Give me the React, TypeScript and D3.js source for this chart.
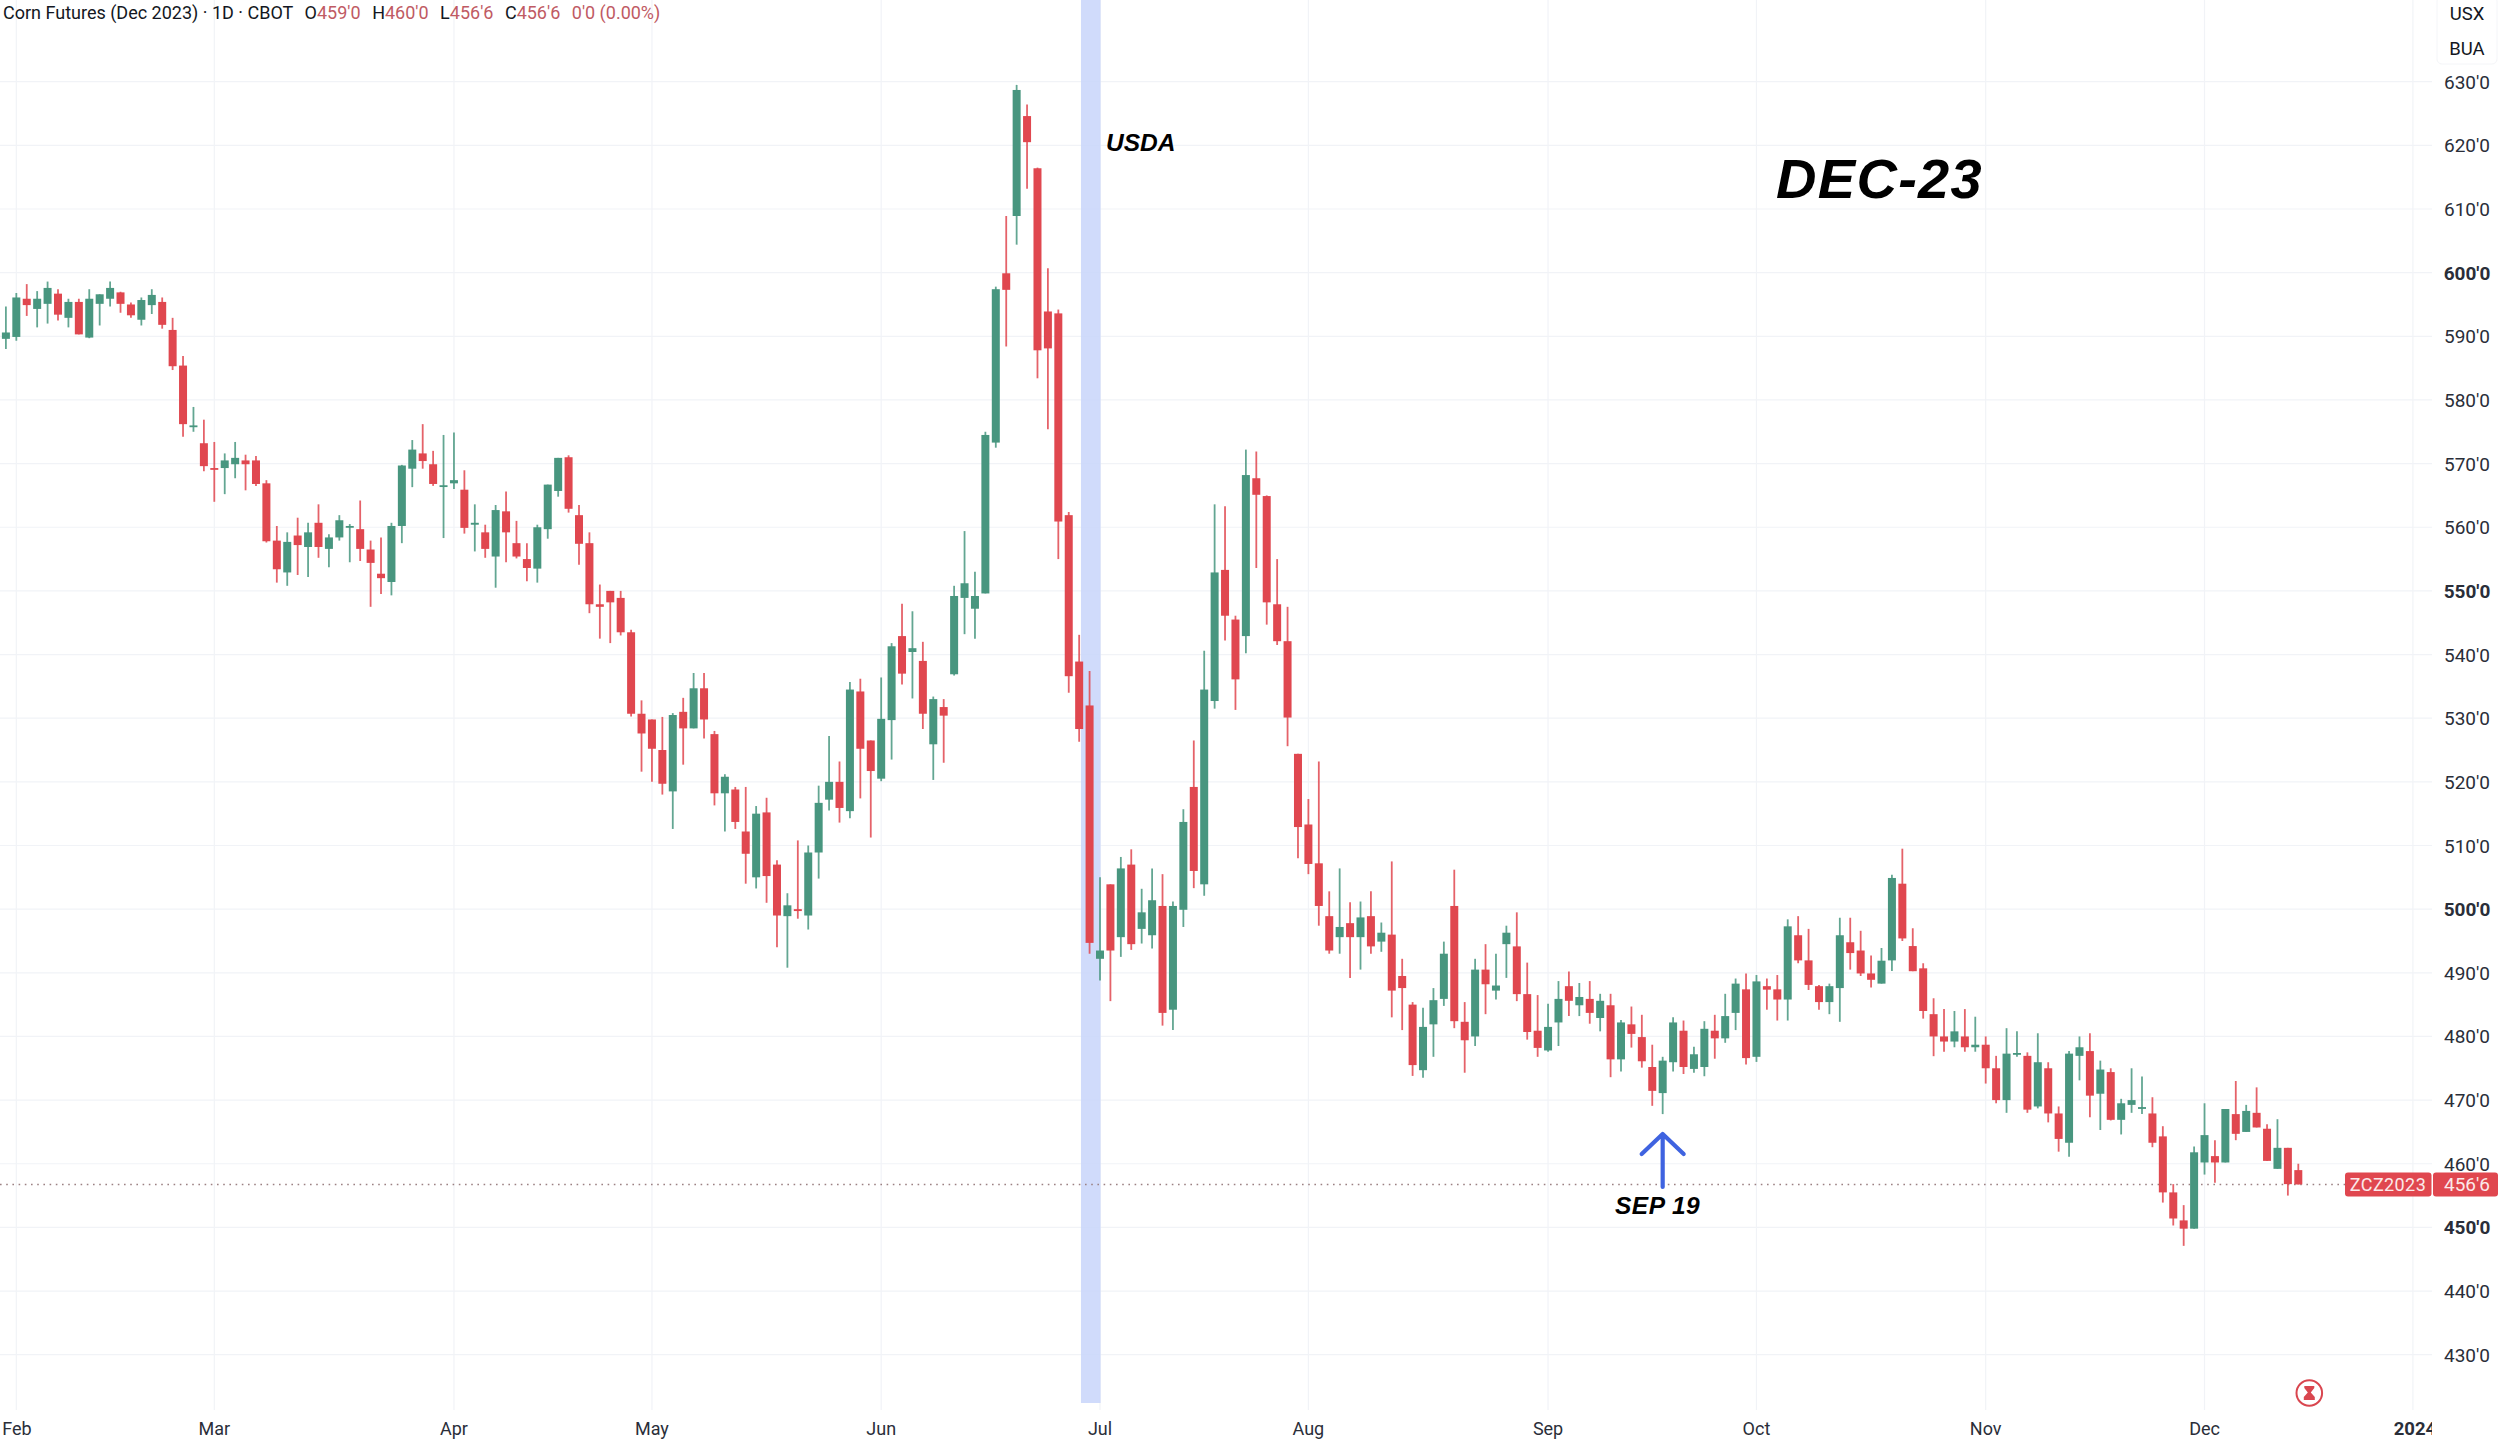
// App.tsx - Corn Futures (Dec 2023) daily candles
import React, { useRef, useEffect } from "react";
import * as d3 from "d3";

const opens = [
  589.6, 589.9, 595.9, 594.3, 595.1, 596.7, 592.9, 595.4, 589.8, 595.1,
  595.9, 596.9, 595.0, 592.6, 594.9, 595.4, 591.0, 585.4, 575.9, 573.2,
  569.3, 569.3, 569.9, 570.5, 570.5, 566.9, 557.9, 552.9, 558.7, 556.9,
  560.7, 556.6, 558.4, 560.0, 559.7, 556.5, 552.7, 551.4, 560.2, 569.2,
  571.6, 569.9, 566.4, 566.9, 565.9, 560.4, 559.2, 555.4, 562.5, 557.5,
  555.0, 553.5, 559.7, 565.7, 571.0, 561.9, 557.5, 547.9, 550.0, 548.9,
  543.5, 530.7, 529.8, 525.0, 518.5, 531.0, 528.4, 534.7, 527.5, 518.2,
  518.8, 512.2, 505.0, 515.2, 507.0, 498.9, 500.0, 499.0, 508.9, 517.2,
  520.0, 515.4, 534.2, 526.5, 520.5, 529.7, 542.9, 540.4, 539.0, 525.9,
  531.75, 536.9, 548.9, 547.2, 549.6, 573.3, 599.9, 608.9, 624.6, 616.4,
  593.9, 593.6, 561.9, 538.9, 532.0, 492.2, 503.9, 495.6, 507.0, 496.9,
  495.9, 500.5, 484.2, 499.9, 519.2, 503.9, 532.7, 553.3, 545.5, 542.9,
  567.7, 564.9, 547.9, 542.1, 524.4, 513.3, 507.2, 498.9, 495.6, 497.8,
  495.6, 498.9, 494.9, 496.0, 489.5, 485.0, 474.7, 481.9, 485.9, 500.5,
  482.3, 480.0, 490.5, 487.2, 494.5, 494.15, 486.65, 480.9, 477.8, 482.2,
  487.9, 484.9, 485.9, 482.9, 484.9, 476.4, 481.9, 479.9, 475.2, 471.1,
  475.95, 480.9, 474.9, 475.2, 480.9, 479.7, 483.7, 487.4, 476.8, 487.9,
  487.4, 485.8, 495.9, 491.95, 487.9, 485.4, 487.6, 494.8, 493.5, 489.9,
  488.3, 491.95, 504.0, 494.2, 490.7, 483.5, 480.0, 479.2, 480.0, 478.3,
  478.7, 475.0, 470.0, 477.3, 476.95, 469.0, 475.0, 467.9, 463.3, 476.95,
  477.7, 471.0, 474.4, 466.9, 469.25, 468.7, 467.9, 464.3, 455.5, 451.1,
  449.8, 460.2, 461.2, 460.2, 467.8, 465.0, 468.0, 465.5, 459.2, 462.5, 459.0,
];

const closes = [
  590.6, 596.1, 594.9, 595.9, 597.6, 593.4, 595.4, 590.3, 595.9, 596.6,
  597.6, 595.1, 593.3, 595.7, 596.5, 591.8, 585.3, 576.2, 576.0, 569.6,
  569.1, 570.5, 570.9, 569.9, 566.8, 557.8, 553.4, 557.7, 557.2, 559.2,
  556.9, 558.4, 561.1, 560.2, 556.6, 554.4, 552.0, 560.2, 569.7, 572.2,
  570.4, 566.8, 566.6, 567.4, 559.9, 560.7, 556.6, 562.7, 559.2, 555.4,
  553.6, 560.0, 566.7, 570.9, 562.9, 557.4, 547.9, 547.5, 548.2, 543.5,
  530.7, 527.6, 525.2, 519.7, 530.5, 528.4, 534.7, 529.8, 518.2, 520.8,
  513.7, 508.7, 515.0, 505.2, 499.0, 500.6, 499.7, 508.9, 516.7, 520.0,
  515.9, 534.5, 525.2, 521.7, 529.9, 541.3, 537.0, 541.0, 530.7, 533.0,
  530.4, 549.2, 551.2, 549.2, 574.5, 597.4, 597.3, 628.7, 620.5, 587.8,
  588.1, 560.9, 536.6, 528.3, 494.7, 493.5, 493.5, 506.4, 494.5, 499.5,
  501.4, 483.7, 500.5, 513.7, 506.0, 534.5, 552.9, 546.1, 536.1, 568.2,
  565.1, 548.2, 542.1, 530.1, 512.9, 507.1, 500.5, 493.5, 497.2, 495.6,
  498.7, 494.15, 496.3, 487.2, 487.6, 475.5, 481.5, 485.7, 493.0, 482.4,
  479.4, 490.5, 488.2, 488.0, 496.3, 486.65, 480.7, 478.2, 481.5, 485.9,
  485.6, 486.2, 483.7, 485.6, 476.4, 482.2, 480.4, 476.1, 471.45, 476.2,
  482.2, 475.2, 477.2, 481.2, 479.7, 483.2, 488.3, 476.6, 488.65, 487.35,
  485.8, 497.3, 491.95, 488.1, 485.4, 487.9, 495.9, 493.1, 489.9, 488.9,
  491.9, 504.9, 495.4, 490.25, 484.0, 480.0, 479.2, 480.8, 478.3, 478.7,
  475.0, 470.0, 477.3, 477.4, 468.5, 475.95, 467.9, 463.9, 477.3, 478.3,
  470.7, 474.8, 466.9, 469.5, 470.0, 468.9, 463.3, 455.5, 451.4, 449.8,
  461.8, 464.5, 460.2, 468.6, 464.7, 468.3, 465.7, 460.45, 462.5, 456.8, 456.75,
];

const highs = [
  594.7, 596.8, 598.2, 597.1, 598.6, 597.4, 595.9, 595.9, 597.4, 596.6,
  598.6, 597.0, 595.3, 596.1, 597.4, 596.1, 592.9, 586.9, 578.9, 576.9,
  573.4, 571.6, 573.4, 571.4, 571.2, 567.4, 560.2, 559.2, 561.5, 560.7,
  563.6, 558.9, 561.9, 560.5, 564.2, 557.9, 558.4, 560.7, 569.8, 573.7,
  576.2, 572.0, 574.5, 574.9, 568.95, 563.6, 560.4, 563.5, 565.6, 561.0,
  557.5, 560.4, 566.7, 570.9, 571.3, 563.5, 559.2, 551.0, 550.0, 550.0,
  543.9, 532.8, 529.8, 530.2, 530.8, 533.2, 537.1, 537.1, 528.0, 521.2,
  519.2, 519.2, 516.2, 517.5, 507.7, 502.5, 510.8, 510.0, 519.4, 527.2,
  523.2, 535.7, 536.2, 526.5, 536.4, 541.8, 548.0, 546.8, 542.0, 533.4,
  533.0, 550.8, 559.4, 553.0, 575.0, 597.8, 608.9, 629.5, 626.4, 616.5,
  600.7, 594.2, 562.4, 543.1, 537.4, 505.0, 503.9, 508.2, 509.4, 503.2,
  506.4, 505.5, 501.2, 515.7, 526.5, 540.6, 563.6, 563.3, 546.1, 572.2,
  571.9, 565.0, 555.0, 547.5, 524.4, 517.3, 523.2, 502.8, 506.4, 501.1,
  501.2, 502.8, 497.9, 507.5, 492.2, 485.4, 484.5, 487.6, 494.9, 506.2,
  485.4, 492.2, 494.5, 493.0, 497.4, 499.5, 491.6, 486.5, 485.15, 488.7,
  490.2, 488.4, 488.7, 486.7, 486.7, 482.6, 484.7, 483.4, 478.7, 476.8,
  483.0, 482.5, 478.4, 482.4, 483.4, 486.7, 489.1, 489.9, 489.65, 489.1,
  489.65, 498.4, 498.9, 496.9, 488.1, 488.3, 498.65, 498.65, 496.6, 492.7,
  493.9, 505.4, 509.5, 497.0, 491.5, 486.0, 484.3, 484.0, 484.3, 483.1,
  480.0, 476.95, 481.3, 480.8, 477.5, 480.5, 475.95, 469.0, 477.7, 480.0,
  480.5, 476.2, 475.0, 470.2, 475.0, 473.7, 470.45, 465.9, 456.8, 453.5,
  462.7, 469.5, 463.7, 468.6, 473.0, 469.25, 472.0, 466.2, 467.0, 462.5, 460.0,
];

const lows = [
  588.0, 589.3, 593.2, 591.4, 592.0, 592.5, 591.4, 590.3, 589.7, 591.7,
  594.7, 593.7, 592.9, 591.7, 593.5, 591.2, 584.7, 574.2, 575.0, 568.8,
  564.0, 565.2, 567.7, 565.8, 566.5, 557.6, 551.3, 550.8, 552.5, 552.2,
  555.2, 553.7, 557.9, 554.5, 554.7, 547.5, 549.5, 549.3, 557.5, 566.3,
  569.2, 566.5, 558.3, 566.0, 559.0, 556.2, 555.2, 550.5, 554.5, 555.1,
  551.5, 551.3, 558.2, 564.8, 562.3, 554.1, 546.5, 542.5, 541.8, 543.0,
  530.25, 521.6, 520.0, 518.0, 512.6, 522.7, 528.4, 526.8, 516.3, 512.2,
  512.6, 504.0, 503.25, 501.0, 494.0, 490.8, 498.5, 496.8, 504.8, 515.5,
  513.6, 514.3, 517.4, 511.25, 520.1, 523.5, 535.3, 533.1, 528.3, 520.3,
  523.0, 536.7, 543.2, 542.5, 549.6, 572.5, 588.4, 604.4, 613.2, 583.4,
  575.4, 555.0, 534.0, 526.3, 493.0, 488.8, 485.55, 492.5, 493.6, 494.6,
  493.8, 481.7, 481.0, 497.2, 503.3, 502.1, 531.5, 542.2, 531.3, 540.2,
  553.6, 544.7, 541.5, 525.6, 508.0, 505.5, 497.4, 493.0, 493.0, 489.2,
  490.5, 493.0, 493.3, 483.0, 481.0, 473.8, 473.5, 476.8, 484.8, 481.3,
  474.3, 478.5, 483.5, 485.8, 489.2, 485.55, 479.5, 476.8, 477.6, 478.5,
  483.2, 483.2, 482.0, 480.8, 473.6, 474.5, 478.25, 475.1, 469.1, 467.8,
  474.5, 474.1, 474.3, 473.75, 476.5, 479.0, 481.0, 475.6, 476.0, 484.2,
  482.5, 482.5, 491.5, 487.3, 484.2, 483.5, 482.3, 490.5, 489.5, 487.7,
  488.3, 490.3, 495.0, 490.25, 482.8, 476.9, 477.6, 478.3, 477.6, 477.6,
  472.6, 469.5, 468.0, 476.8, 468.0, 468.7, 466.5, 461.9, 461.1, 473.1,
  467.3, 465.3, 466.8, 464.6, 468.0, 467.8, 462.6, 453.9, 450.3, 447.1,
  449.8, 458.3, 457.0, 460.2, 463.7, 465.0, 465.7, 460.45, 459.2, 455.0, 456.75,
];

// month label -> index of the first session of that month
const monthTicks: [number, string][] = [
  [1, "Feb"], [20, "Mar"], [43, "Apr"], [62, "May"], [84, "Jun"], [105, "Jul"],
  [125, "Aug"], [148, "Sep"], [168, "Oct"], [190, "Nov"], [211, "Dec"], [231, "2024"],
];
const priceTicks = d3.range(430, 621, 10);
const gridPrices = d3.range(430, 631, 10);
const boldPrices = [450, 500, 550, 600];

const usdaIndex = 104;
const sepIndex = 159;
const lastPrice = 456.75;
const legendParts: [string, string][] = [
  ["O", "459'0"], ["H", "460'0"], ["L", "456'6"], ["C", "456'6"],
];

const UP = "#48967f";
const DOWN = "#e0474f";
const GRID = "#f1f3f7";
const UI_FONT = "Roboto, Inter, sans-serif";
const LABEL_FONT = "'Liberation Sans', Arial, sans-serif";

const App: React.FC = () => {
  const ref = useRef<SVGSVGElement | null>(null);

  useEffect(() => {
    const svg = d3.select(ref.current);
    svg.selectAll("*").remove();

    const axisX = 2432;

    const x = d3.scaleLinear().domain([0, 231]).range([5.9, 5.9 + 231 * 10.42]);
    const y = d3.scaleLinear().domain([430, 630]).range([1354.7, 81.7]);

    const defs = svg.append("defs");
    defs.append("clipPath").attr("id", "year-clip")
      .append("rect").attr("x", 0).attr("y", 1410).attr("width", axisX).attr("height", 29);

    // grid
    svg.append("g").selectAll("line").data(gridPrices).enter().append("line")
      .attr("x1", 0).attr("x2", axisX)
      .attr("y1", (d) => y(d)).attr("y2", (d) => y(d))
      .attr("stroke", GRID).attr("stroke-width", 1.2);
    svg.append("g").selectAll("line").data(monthTicks).enter().append("line")
      .attr("x1", (d) => x(d[0])).attr("x2", (d) => x(d[0]))
      .attr("y1", 0).attr("y2", 1410)
      .attr("stroke", GRID).attr("stroke-width", 1.2);

    // USDA report band
    svg.append("rect")
      .attr("x", x(usdaIndex) - 8.6).attr("width", 19.6)
      .attr("y", 0).attr("height", 1403)
      .attr("fill", "#c8d5fa").attr("fill-opacity", 0.85);

    // last price line
    svg.append("line")
      .attr("x1", 0).attr("x2", 2345)
      .attr("y1", y(lastPrice)).attr("y2", y(lastPrice))
      .attr("stroke", "#9c8183").attr("stroke-width", 1.6)
      .attr("stroke-dasharray", "1.6 4.6");

    // candles
    const candles = d3.range(opens.length);
    const color = (i: number) => (closes[i] >= opens[i] ? UP : DOWN);
    const g = svg.append("g");
    g.selectAll("line").data(candles).enter().append("line")
      .attr("x1", (i) => x(i)).attr("x2", (i) => x(i))
      .attr("y1", (i) => y(highs[i])).attr("y2", (i) => y(lows[i]))
      .attr("stroke", color).attr("stroke-width", 1.8).attr("stroke-opacity", 0.85);
    g.selectAll("rect").data(candles).enter().append("rect")
      .attr("x", (i) => x(i) - 4).attr("width", 8)
      .attr("y", (i) => y(Math.max(opens[i], closes[i])))
      .attr("height", (i) => Math.max(1.8, Math.abs(y(opens[i]) - y(closes[i]))))
      .attr("fill", color);

    // price axis
    svg.append("g").selectAll("text").data(priceTicks).enter().append("text")
      .attr("x", 2467).attr("y", (d) => y(d) + 0.2).attr("dy", "0.36em")
      .attr("text-anchor", "middle")
      .attr("font-family", UI_FONT).attr("font-size", 19)
      .attr("font-weight", (d) => (boldPrices.includes(d) ? 700 : 400))
      .attr("fill", "#2a2e39")
      .text((d) => `${d}'0`);

    // time axis, the year label runs into the price scale
    const isYear = (d: [number, string]) => d[1] === "2024";
    const months = svg.append("g");
    months.selectAll("text").data(monthTicks.filter((d) => !isYear(d))).enter().append("text")
      .attr("x", (d) => Math.max(x(d[0]), 17)).attr("y", 1434.5)
      .attr("text-anchor", "middle")
      .attr("font-family", UI_FONT).attr("font-size", 18)
      .attr("fill", "#2a2e39")
      .text((d) => d[1]);
    svg.append("g").attr("clip-path", "url(#year-clip)")
      .selectAll("text").data(monthTicks.filter(isYear)).enter().append("text")
      .attr("x", (d) => x(d[0]) + 2).attr("y", 1434.5)
      .attr("text-anchor", "middle")
      .attr("font-family", UI_FONT).attr("font-size", 18.5).attr("font-weight", 700)
      .attr("fill", "#2a2e39")
      .text((d) => d[1]);

    // unit box
    svg.append("rect")
      .attr("x", 2437).attr("y", -4).attr("width", 60).attr("height", 68).attr("rx", 5)
      .attr("fill", "#fff").attr("stroke", "#f4f5f8");
    ["USX", "BUA"].forEach((u, i) => {
      svg.append("text")
        .attr("x", 2467).attr("y", 20 + i * 35)
        .attr("text-anchor", "middle")
        .attr("font-family", UI_FONT).attr("font-size", 18.5)
        .attr("fill", "#131722").text(u);
    });
    svg.append("text")
      .attr("x", 2467).attr("y", y(630) + 0.2).attr("dy", "0.36em")
      .attr("text-anchor", "middle")
      .attr("font-family", UI_FONT).attr("font-size", 19)
      .attr("fill", "#2a2e39").text("630'0");

    // last price tag
    const tagY = y(lastPrice) - 12;
    svg.append("rect").attr("x", 2345).attr("y", tagY).attr("width", 86.5).attr("height", 24)
      .attr("rx", 3).attr("fill", DOWN);
    svg.append("rect").attr("x", 2433).attr("y", tagY).attr("width", 65).attr("height", 24)
      .attr("rx", 3).attr("fill", DOWN);
    svg.append("text").attr("x", 2388).attr("y", y(lastPrice)).attr("dy", "0.36em")
      .attr("text-anchor", "middle").attr("font-family", UI_FONT).attr("font-size", 18)
      .attr("letter-spacing", 0.4).attr("fill", "#fbe9ea").text("ZCZ2023");
    svg.append("text").attr("x", 2467).attr("y", y(lastPrice)).attr("dy", "0.36em")
      .attr("text-anchor", "middle").attr("font-family", UI_FONT).attr("font-size", 19)
      .attr("fill", "#fbe9ea").text("456'6");

    // legend
    const legend = svg.append("text").attr("x", 3).attr("y", 19)
      .attr("font-family", UI_FONT).attr("font-size", 18).attr("fill", "#131722");
    legend.append("tspan").text("Corn Futures (Dec 2023) · 1D · CBOT");
    legendParts.forEach(([k, v]) => {
      legend.append("tspan").attr("dx", 11.5).text(k);
      legend.append("tspan").attr("fill", "#bf5a63").text(v);
    });
    legend.append("tspan").attr("dx", 11.5).attr("fill", "#bf5a63").text("0'0 (0.00%)");

    // session timer icon
    const iconX = x(220) + 11;
    const icon = svg.append("g").attr("transform", `translate(${iconX},1393)`);
    icon.append("circle").attr("r", 12.8).attr("fill", "#fff")
      .attr("stroke", "#d9464f").attr("stroke-width", 2);
    icon.append("path")
      .attr("d", d3.line()([[-5, -7], [5, -7], [5, -5], [1.5, -0.5], [5.5, 4], [5.5, 7], [-5.5, 7], [-5.5, 4], [-1.5, -0.5], [-5, -5]]) + "Z")
      .attr("fill", "#d9464f");

    // annotations
    const bigText = (tx: number, ty: number, size: number, spacing: number, t: string) =>
      svg.append("text").attr("x", tx).attr("y", ty)
        .attr("font-family", LABEL_FONT).attr("font-style", "italic").attr("font-weight", 700)
        .attr("font-size", size).attr("letter-spacing", spacing).attr("fill", "#000").text(t);
    bigText(1106, 151, 24.5, 0, "USDA");
    bigText(1776, 198, 56, 1.3, "DEC-23");
    bigText(1615, 1214, 24.5, 0.5, "SEP 19");

    const ax = x(sepIndex);
    svg.append("path")
      .attr("d", `M${ax},1187V1134M${ax - 21},1154L${ax},1134L${ax + 21},1154`)
      .attr("fill", "none").attr("stroke", "#3f63e0").attr("stroke-width", 4.2)
      .attr("stroke-linecap", "round").attr("stroke-linejoin", "round");
  }, []);

  return (
    <svg
      ref={ref}
      width={2500}
      height={1439}
      style={{ position: "absolute", left: 0, top: 0, background: "#fff" }}
    />
  );
};

export default App;
